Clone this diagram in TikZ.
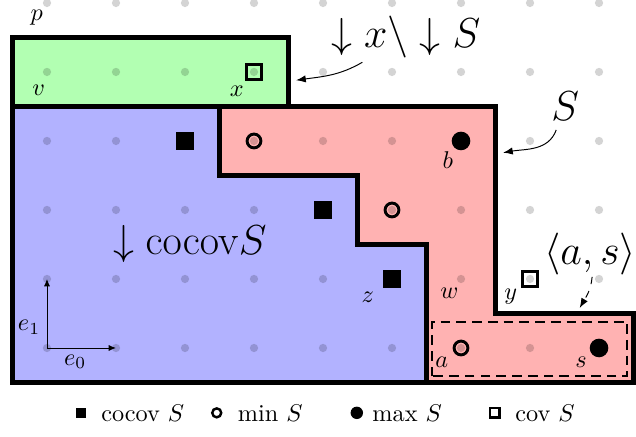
\documentclass[tikz,border=0pt]{standalone}
\usepackage{amsmath}
\usepackage{amssymb}
\usetikzlibrary{arrows.meta, positioning, calc}

\tikzset{
    region/.style={draw=black, line width=1.8pt},
    latticept/.style={black, opacity=0.17},
    cocovpt/.style={rectangle, fill=black, inner sep=0pt, minimum size=0.26cm},
    minpt/.style={circle, draw=black, line width=1.2pt, inner sep=0pt, minimum size=0.2cm},
    maxpt/.style={circle, fill=black, inner sep=0pt, minimum size=0.27cm},
    covpt/.style={rectangle, draw=black, line width=1.2pt, inner sep=0pt, minimum size=0.21cm},
    ptlabel/.style={inner sep=0pt, font=\normalsize},
    keylabel/.style={inner sep=0pt, anchor=west, font=\normalsize},
    biglabel/.style={inner sep=0pt, font=\LARGE},
    pointer/.style={-{Latex[length=4pt, width=3pt]}},
}

\begin{document}
\begin{tikzpicture}
    \useasboundingbox (-0.681,-1.29) rectangle (8.536,5.043);

    % Regions: down-set of x minus down-set of S, down-set of cocov S, and S
    \draw[region, fill=green!30] (-0.5,3.5) rectangle (3.5,4.5);
    \draw[region, fill=blue!30] (-0.5,-0.5) -- (5.5,-0.5) -- (5.5,1.5) -- (4.5,1.5)
        -- (4.5,2.5) -- (2.5,2.5) -- (2.5,3.5) -- (-0.5,3.5) -- cycle;
    \draw[region, fill=red!30] (2.5,3.5) -- (6.5,3.5) -- (6.5,0.5) -- (8.5,0.5)
        -- (8.5,-0.5) -- (5.5,-0.5) -- (5.5,1.5) -- (4.5,1.5) -- (4.5,2.5)
        -- (2.5,2.5) -- cycle;

    % Lattice points
    \foreach \i in {0,...,8}
        \foreach \j in {0,...,5}
            \fill[latticept] (\i,\j) circle (0.06);

    % Interval <a,s>
    \draw[thick, dash pattern=on 4pt off 2.5pt] (5.58,-0.41) rectangle (8.41,0.38);

    % Basis vectors
    \coordinate (o) at (0,0);
    \coordinate (o0) at (1,0);
    \coordinate (o1) at (0,1);
    \draw[-{Latex[length=3pt, width=2.5pt]}] (o) -- (o0);
    \draw[-{Latex[length=3pt, width=2.5pt]}] (o) -- (o1);
    \node[ptlabel] (le0) at (0.41,-0.2) {$e_0$};
    \node[ptlabel] (le1) at (-0.26,0.3) {$e_1$};

    % Special points
    \node[cocovpt] (c1) at (2,3) {};
    \node[cocovpt] (c2) at (4,2) {};
    \node[cocovpt] (z) at (5,1) {};
    \node[minpt] (m1) at (3,3) {};
    \node[minpt] (m2) at (5,2) {};
    \node[minpt] (a) at (6,0) {};
    \node[maxpt] (b) at (6,3) {};
    \node[maxpt] (s) at (8,0) {};
    \node[covpt] (x) at (3,4) {};
    \node[covpt] (y) at (7,1) {};

    % Point labels
    \node[ptlabel] (lp) at (-0.15,4.79) {$p$};
    \node[ptlabel] (lv) at (-0.12,3.74) {$v$};
    \node[ptlabel] (lx) at (2.75,3.72) {$x$};
    \node[ptlabel] (lb) at (5.81,2.73) {$b$};
    \node[ptlabel] (lz) at (4.65,0.74) {$z$};
    \node[ptlabel] (lw) at (5.83,0.8) {$w$};
    \node[ptlabel] (ly) at (6.72,0.74) {$y$};
    \node[ptlabel] (la) at (5.72,-0.2) {$a$};
    \node[ptlabel] (ls) at (7.74,-0.2) {$s$};

    % Region labels
    \node[biglabel] (lxs) at (5.2,4.5) {$\downarrow x \setminus \downarrow S$};
    \node[biglabel] (lS) at (7.51,3.5) {$S$};
    \node[biglabel] (las) at (7.87,1.36) {$\langle a, s\rangle$};
    \node[biglabel] (lcocov) at (2.07,1.5) {$\downarrow \mathrm{cocov} S$};

    % Pointers
    \coordinate (xsfrom) at (4.57,4.14);
    \coordinate (xsto) at (3.61,3.88);
    \coordinate (Sfrom) at (7.38,3.16);
    \coordinate (Sto) at (6.61,2.83);
    \coordinate (asfrom) at (7.9,1.03);
    \coordinate (asto) at (7.72,0.58);
    \draw[pointer] (xsfrom) to[out=-150, in=8] (xsto);
    \draw[pointer] (Sfrom) to[out=-110, in=10] (Sto);
    \draw[pointer, dashed] (asfrom) to[out=-95, in=60] (asto);

    % Legend
    \node[cocovpt, minimum size=0.15cm] (kc) at (0.49,-0.94) {};
    \node[keylabel] (tc) at (0.78,-0.94) {cocov $S$};
    \node[minpt, minimum size=0.13cm, line width=1pt] (kmin) at (2.46,-0.94) {};
    \node[keylabel] (tmin) at (2.76,-0.94) {min $S$};
    \node[maxpt, minimum size=0.18cm] (kmax) at (4.49,-0.94) {};
    \node[keylabel] (tmax) at (4.71,-0.94) {max $S$};
    \node[covpt, minimum size=0.14cm, line width=1pt] (kcov) at (6.49,-0.94) {};
    \node[keylabel] (tcov) at (6.78,-0.94) {cov $S$};
\end{tikzpicture}
\end{document}
